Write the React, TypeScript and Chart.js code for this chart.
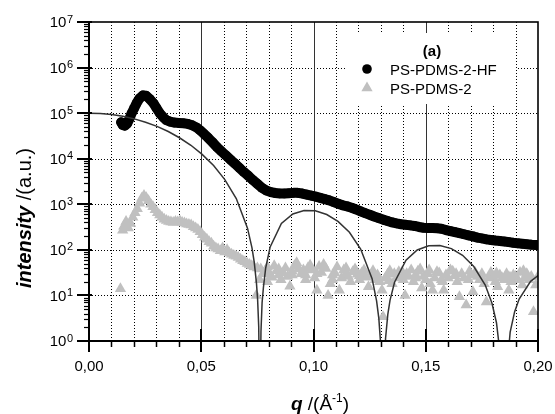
import React, { useEffect, useRef } from "react";
import { Chart, registerables } from "chart.js";

Chart.register(...registerables);

// ---- data ----
const modelQ = [
  0.0, 0.005, 0.0101, 0.0151, 0.0202, 0.0252, 0.0303, 0.0353, 0.0403, 0.0454,
  0.0504, 0.0555, 0.0605, 0.0656, 0.0706, 0.0726, 0.0736, 0.0746, 0.0751, 0.0756,
  0.0761, 0.0766, 0.0771, 0.0777, 0.0787, 0.0807, 0.0857, 0.0908, 0.0958, 0.1008,
  0.1059, 0.1109, 0.116, 0.121, 0.1261, 0.1281, 0.1291, 0.1301, 0.1311, 0.1321,
  0.1331, 0.1341, 0.1361, 0.1412, 0.1462, 0.1513, 0.1563, 0.1614, 0.1664, 0.1714,
  0.1765, 0.1795, 0.1815, 0.1835, 0.1846, 0.1856, 0.1876, 0.1896, 0.1916, 0.1967,
  0.2017,
];
const modelI = [
  100000, 98240, 93130, 85120, 74890, 63290, 51200, 39490, 28820, 19730,
  12470, 7106, 3486, 1335, 299, 110.6, 53.6, 18.4, 8.24, 2.08,
  0.01, 1.62, 6.9, 15.1, 40.0, 116.2, 377.9, 614, 733, 718,
  597, 421, 243, 104.3, 23.3, 7.63, 3.13, 0.635, 0.023, 1.15,
  3.83, 7.91, 19.5, 59.5, 99.2, 123, 124.8, 106.4, 75.9, 43.1,
  16.9, 6.73, 2.52, 0.367, 0.015, 0.119, 1.56, 4.41, 8.34, 20.4,
  31.5,
];

const hfQ = [
  0.0143, 0.015, 0.016, 0.017, 0.018, 0.019, 0.02, 0.0212, 0.0225, 0.024,
  0.0255, 0.027, 0.0287, 0.03, 0.0315, 0.0331, 0.0345, 0.0361, 0.038, 0.04,
  0.042, 0.044, 0.046, 0.048, 0.0495, 0.051, 0.053, 0.055, 0.057, 0.059,
  0.061, 0.063, 0.065, 0.067, 0.069, 0.071, 0.073, 0.075, 0.077, 0.079,
  0.081, 0.083, 0.085, 0.087, 0.089, 0.091, 0.093, 0.095, 0.097, 0.099,
  0.101, 0.103, 0.105, 0.107, 0.109, 0.111, 0.113, 0.115, 0.117, 0.119,
  0.121, 0.123, 0.125, 0.127, 0.129, 0.131, 0.133, 0.135, 0.137, 0.139,
  0.141, 0.143, 0.145, 0.147, 0.149, 0.151, 0.153, 0.155, 0.157, 0.159,
  0.161, 0.163, 0.165, 0.167, 0.169, 0.171, 0.173, 0.175, 0.177, 0.179,
  0.181, 0.183, 0.185, 0.187, 0.189, 0.191, 0.193, 0.195, 0.197, 0.199,
  0.2,
];
const hfI = [
  63000, 55000, 53000, 59000, 75000, 100000, 125000, 165000, 210000, 245000,
  240000, 205000, 165000, 130000, 100000, 81000, 70000, 65000, 62000, 61000,
  60000, 58000, 54000, 48000, 42000, 36000, 29000, 23000, 18000, 14500,
  11800, 9500, 7800, 6300, 5100, 4200, 3400, 2800, 2300, 2000,
  1850, 1770, 1730, 1720, 1750, 1780, 1780, 1720, 1630, 1550,
  1470, 1380, 1300, 1220, 1120, 1030, 950, 900, 840, 770,
  700, 640, 590, 540, 500, 460, 430, 400, 380, 365,
  355, 345, 335, 318, 305, 300, 302, 298, 290, 272,
  258, 245, 232, 220, 208, 198, 186, 178, 170, 165,
  160, 157, 153, 148, 143, 139, 136, 133, 130, 128,
  127,
];

const psQ = [
  0.014, 0.015, 0.0155, 0.0165, 0.0175, 0.0185, 0.0195, 0.0205, 0.0215, 0.0225,
  0.0235, 0.0245, 0.0255, 0.0265, 0.0275, 0.0285, 0.0295, 0.0305, 0.0315, 0.0325,
  0.0335, 0.0345, 0.0355, 0.0365, 0.0375, 0.0385, 0.0395, 0.0405, 0.0415, 0.0425,
  0.0435, 0.0445, 0.0455, 0.0465, 0.0475, 0.0485, 0.0495, 0.0505, 0.0515, 0.0525,
  0.0535, 0.0545, 0.0555, 0.0565, 0.0575, 0.0585, 0.0595, 0.0605, 0.0615, 0.0625,
  0.0635, 0.0645, 0.0655, 0.0665, 0.0675, 0.0685, 0.0695, 0.0705, 0.0715, 0.0725,
  0.0735, 0.0745, 0.075, 0.076, 0.0765, 0.0775, 0.0785, 0.0795, 0.0805, 0.0815,
  0.0825, 0.0835, 0.0845, 0.0855, 0.0865, 0.0875, 0.0885, 0.0895, 0.0905, 0.0915,
  0.0925, 0.0935, 0.0945, 0.0955, 0.0965, 0.0975, 0.0985, 0.0995, 0.1005, 0.1015,
  0.1025, 0.1035, 0.1045, 0.1055, 0.1065, 0.1075, 0.1085, 0.1095, 0.1105, 0.1115,
  0.1125, 0.1135, 0.1145, 0.1155, 0.1165, 0.1175, 0.1185, 0.1195, 0.1205, 0.1215,
  0.1225, 0.1235, 0.1245, 0.1255, 0.1265, 0.1275, 0.1285, 0.1295, 0.1305, 0.131,
  0.132, 0.133, 0.134, 0.135, 0.136, 0.137, 0.138, 0.139, 0.14, 0.1408,
  0.1415, 0.1425, 0.1435, 0.1445, 0.1455, 0.1465, 0.1475, 0.1482, 0.149, 0.15,
  0.151, 0.152, 0.153, 0.154, 0.155, 0.156, 0.157, 0.158, 0.159, 0.16,
  0.161, 0.162, 0.163, 0.164, 0.165, 0.166, 0.167, 0.168, 0.169, 0.17,
  0.171, 0.172, 0.173, 0.174, 0.175, 0.176, 0.177, 0.178, 0.179, 0.18,
  0.181, 0.182, 0.183, 0.184, 0.185, 0.186, 0.187, 0.188, 0.189, 0.19,
  0.191, 0.192, 0.193, 0.194, 0.195, 0.196, 0.197, 0.198, 0.199, 0.2,
  0.0795, 0.0845, 0.0905, 0.0965, 0.1015, 0.1085, 0.1145, 0.1205, 0.1265, 0.1335,
  0.1395, 0.1455, 0.1515, 0.1575, 0.1635, 0.1695, 0.1755, 0.1815, 0.1875, 0.1935,
];
const psI = [
  14, 270, 330, 420, 300, 380, 520, 650, 800, 1050,
  1350, 1550, 1400, 1200, 1000, 880, 760, 650, 580, 520,
  470, 440, 420, 410, 400, 420, 410, 430, 400, 390,
  370, 360, 350, 320, 300, 280, 250, 215, 190, 170,
  150, 140, 120, 110, 105, 95, 110, 90, 100, 85,
  80, 75, 72, 68, 62, 58, 55, 50, 48, 45,
  42, 10, 40, 22, 38, 30, 35, 42, 30, 25,
  45, 35, 28, 22, 31, 40, 26, 16, 28, 45,
  52, 38, 30, 36, 22, 40, 46, 36, 24, 13,
  43, 32, 48, 39, 10, 18, 28, 31, 42, 13,
  24, 36, 30, 26, 20, 33, 38, 29, 22, 31,
  36, 25, 15.5, 26, 32, 22, 28, 20, 13, 3.4,
  24, 29, 35, 18, 30, 24, 33, 27, 22, 10,
  30, 26, 36, 20, 28, 34, 38, 14.5, 26, 22,
  30, 18, 13, 24, 33, 31, 22, 13, 28, 24,
  36, 34, 27, 20, 9.3, 30, 24, 6.2, 22, 28,
  12, 32, 26, 22, 30, 18, 7.2, 24, 32, 26,
  20, 15.5, 28, 24, 22, 30, 13, 20, 28, 26,
  22, 32, 17, 24, 30, 22, 26, 4.4, 17, 26,
  20, 38, 34, 28, 30, 22, 40, 27, 35, 21,
  33, 24, 36, 20, 30, 34, 22, 31, 25, 35,
];

const xMajor = [0, 0.05, 0.1, 0.15, 0.2];
const xTickLabels = ["0,00", "0,05", "0,10", "0,15", "0,20"];
const xMinorStep = 0.01;
const yDecades = [0, 1, 2, 3, 4, 5, 6, 7];
const seriesNames = ["PS-PDMS-2-HF", "PS-PDMS-2"];
const panelLabel = "(a)";
const yTitleBold = "intensity";
const yTitleRest = " /(a.u.)";
const xTitleBold = "q";
const xTitleRest = " /(Å";
const xTitleSup = "-1";
const xTitleEnd = ")";

const FONT = '"Liberation Sans", Arial, Helvetica, sans-serif';
const GRAY = "#c0c0c0";
const CURVE = "#333333";

function seg(ctx: CanvasRenderingContext2D, x1: number, y1: number, x2: number, y2: number) {
  ctx.beginPath();
  ctx.moveTo(x1, y1);
  ctx.lineTo(x2, y2);
  ctx.stroke();
}

const framePlugin = {
  id: "frameDecor",
  beforeDatasetsDraw(chart: any) {
    const { ctx, chartArea: a, scales } = chart;
    const x = scales.x;
    const y = scales.y;
    ctx.save();
    ctx.strokeStyle = "#000";
    ctx.lineWidth = 1;
    ctx.setLineDash([1, 2]);
    for (let i = 1; i < 20; i++) {
      if (i % 5 === 0) continue;
      const px = Math.round(x.getPixelForValue(i * xMinorStep)) + 0.5;
      seg(ctx, px, a.top, px, a.bottom);
    }
    for (const d of yDecades) {
      if (d === 0 || d === 7) continue;
      const py = Math.round(y.getPixelForValue(Math.pow(10, d))) + 0.5;
      seg(ctx, a.left, py, a.right, py);
    }
    ctx.setLineDash([]);
    ctx.strokeStyle = "#333";
    for (const v of xMajor) {
      if (v === 0 || v === 0.2) continue;
      const px = Math.round(x.getPixelForValue(v)) + 0.5;
      seg(ctx, px, a.top, px, a.bottom);
    }
    ctx.fillStyle = "#fff";
    ctx.fillRect(a.left + 258, a.top + 11, 169, 71);
    ctx.restore();
  },
  afterDatasetsDraw(chart: any) {
    const { ctx, chartArea: a, scales } = chart;
    const x = scales.x;
    const y = scales.y;
    ctx.save();
    ctx.strokeStyle = "#000";
    ctx.lineWidth = 1.6;
    ctx.strokeRect(a.left, a.top, a.right - a.left, a.bottom - a.top);
    ctx.lineWidth = 2;
    seg(ctx, a.left, a.top - 1, a.left, a.bottom + 1);
    seg(ctx, a.left - 1, a.bottom, a.right + 1, a.bottom);

    ctx.lineWidth = 2;
    for (const v of xMajor) {
      const px = Math.round(x.getPixelForValue(v));
      seg(ctx, px, a.bottom - 12, px, a.bottom + 11);
    }
    ctx.lineWidth = 1.5;
    for (let i = 1; i < 20; i++) {
      if (i % 5 === 0) continue;
      const px = Math.round(x.getPixelForValue(i * xMinorStep)) + 0.5;
      seg(ctx, px, a.bottom, px, a.bottom + 6);
    }
    for (const d of yDecades) {
      const py = Math.round(y.getPixelForValue(Math.pow(10, d)));
      ctx.lineWidth = 2;
      seg(ctx, a.left - 12, py, a.left + 3, py);
      if (d < 7) {
        ctx.lineWidth = 1.2;
        for (let m = 2; m <= 9; m++) {
          const pm = Math.round(y.getPixelForValue(m * Math.pow(10, d))) + 0.5;
          seg(ctx, a.left - 5, pm, a.left, pm);
        }
      }
    }

    ctx.fillStyle = "#000";
    ctx.font = `15px ${FONT}`;
    ctx.textAlign = "center";
    ctx.textBaseline = "alphabetic";
    xMajor.forEach((v, i) => {
      ctx.fillText(xTickLabels[i], x.getPixelForValue(v), a.bottom + 30);
    });
    for (const d of yDecades) {
      const py = y.getPixelForValue(Math.pow(10, d));
      ctx.font = `11px ${FONT}`;
      ctx.textAlign = "right";
      const supRight = a.left - 16;
      ctx.fillText(String(d), supRight, py + 0.5);
      const sw = ctx.measureText(String(d)).width;
      ctx.font = `15px ${FONT}`;
      ctx.fillText("10", supRight - sw - 0.5, py + 5.4);
    }

    const lx = a.left + 278;
    ctx.textAlign = "center";
    ctx.font = `bold 15px ${FONT}`;
    ctx.fillText(panelLabel, a.left + 343, a.top + 34);
    ctx.beginPath();
    ctx.arc(lx, a.top + 47, 4.8, 0, Math.PI * 2);
    ctx.fillStyle = "#000";
    ctx.fill();
    const ty = a.top + 66;
    const r = 6.5;
    ctx.beginPath();
    ctx.moveTo(lx, ty - r);
    ctx.lineTo(lx + r * Math.sin((2 * Math.PI) / 3), ty - r * Math.cos((2 * Math.PI) / 3));
    ctx.lineTo(lx + r * Math.sin((4 * Math.PI) / 3), ty - r * Math.cos((4 * Math.PI) / 3));
    ctx.closePath();
    ctx.fillStyle = GRAY;
    ctx.fill();
    ctx.fillStyle = "#000";
    ctx.textAlign = "left";
    ctx.font = `15px ${FONT}`;
    ctx.fillText(seriesNames[0], a.left + 301, a.top + 52.5);
    ctx.fillText(seriesNames[1], a.left + 301, a.top + 71.5);

    const xb = 410;
    ctx.font = `italic bold 19px ${FONT}`;
    const w1 = ctx.measureText(xTitleBold).width;
    ctx.font = `19px ${FONT}`;
    const w2 = ctx.measureText(xTitleRest).width;
    const w4 = ctx.measureText(xTitleEnd).width;
    ctx.font = `12px ${FONT}`;
    const w3 = ctx.measureText(xTitleSup).width;
    let cx = 320 - (w1 + w2 + w3 + w4) / 2;
    ctx.font = `italic bold 19px ${FONT}`;
    ctx.fillText(xTitleBold, cx, xb);
    cx += w1;
    ctx.font = `19px ${FONT}`;
    ctx.fillText(xTitleRest, cx, xb);
    cx += w2;
    ctx.font = `12px ${FONT}`;
    ctx.fillText(xTitleSup, cx, xb - 8);
    cx += w3;
    ctx.font = `19px ${FONT}`;
    ctx.fillText(xTitleEnd, cx, xb);

    ctx.translate(31, 218);
    ctx.rotate(-Math.PI / 2);
    ctx.font = `italic bold 20px ${FONT}`;
    const v1 = ctx.measureText(yTitleBold).width;
    ctx.font = `20px ${FONT}`;
    const v2 = ctx.measureText(yTitleRest).width;
    const sx = -(v1 + v2) / 2;
    ctx.font = `italic bold 20px ${FONT}`;
    ctx.fillText(yTitleBold, sx, 0);
    ctx.font = `20px ${FONT}`;
    ctx.fillText(yTitleRest, sx + v1, 0);
    ctx.restore();
  },
};

export default function App() {
  const ref = useRef<HTMLCanvasElement | null>(null);
  useEffect(() => {
    if (!ref.current) return;
    const chart = new Chart(ref.current, {
      type: "scatter",
      data: {
        datasets: [
          {
            label: "model",
            data: modelQ.map((q, i) => ({ x: q, y: modelI[i] })),
            showLine: true,
            borderColor: CURVE,
            borderWidth: 1.5,
            pointRadius: 0,
            tension: 0,
            clip: 0,
          } as any,
          {
            label: seriesNames[0],
            data: hfQ.map((q, i) => ({ x: q, y: hfI[i] })),
            showLine: true,
            borderColor: "#000",
            borderWidth: 10,
            borderJoinStyle: "round",
            borderCapStyle: "round",
            pointRadius: 4.8,
            pointBackgroundColor: "#000",
            pointBorderWidth: 0,
            tension: 0,
            clip: 0,
          } as any,
          {
            label: seriesNames[1],
            data: psQ.map((q, i) => ({ x: q, y: psI[i] })),
            showLine: false,
            pointStyle: "triangle",
            pointRadius: 6.5,
            pointBackgroundColor: GRAY,
            pointBorderColor: GRAY,
            pointBorderWidth: 0,
            clip: 0,
          } as any,
        ],
      },
      options: {
        responsive: false,
        animation: false,
        devicePixelRatio: 1,
        layout: { padding: { left: 89, right: 17, top: 22, bottom: 73 } },
        plugins: { legend: { display: false }, tooltip: { enabled: false } },
        events: [],
        scales: {
          x: { type: "linear", min: 0, max: 0.2, display: false },
          y: { type: "logarithmic", min: 1, max: 1e7, display: false },
        },
      },
      plugins: [framePlugin],
    });
    return () => chart.destroy();
  }, []);
  return (
    <div style={{ position: "fixed", left: 0, top: 0, width: 555, height: 414, background: "#fff" }}>
      <canvas ref={ref} width={555} height={414} style={{ display: "block" }} />
    </div>
  );
}
